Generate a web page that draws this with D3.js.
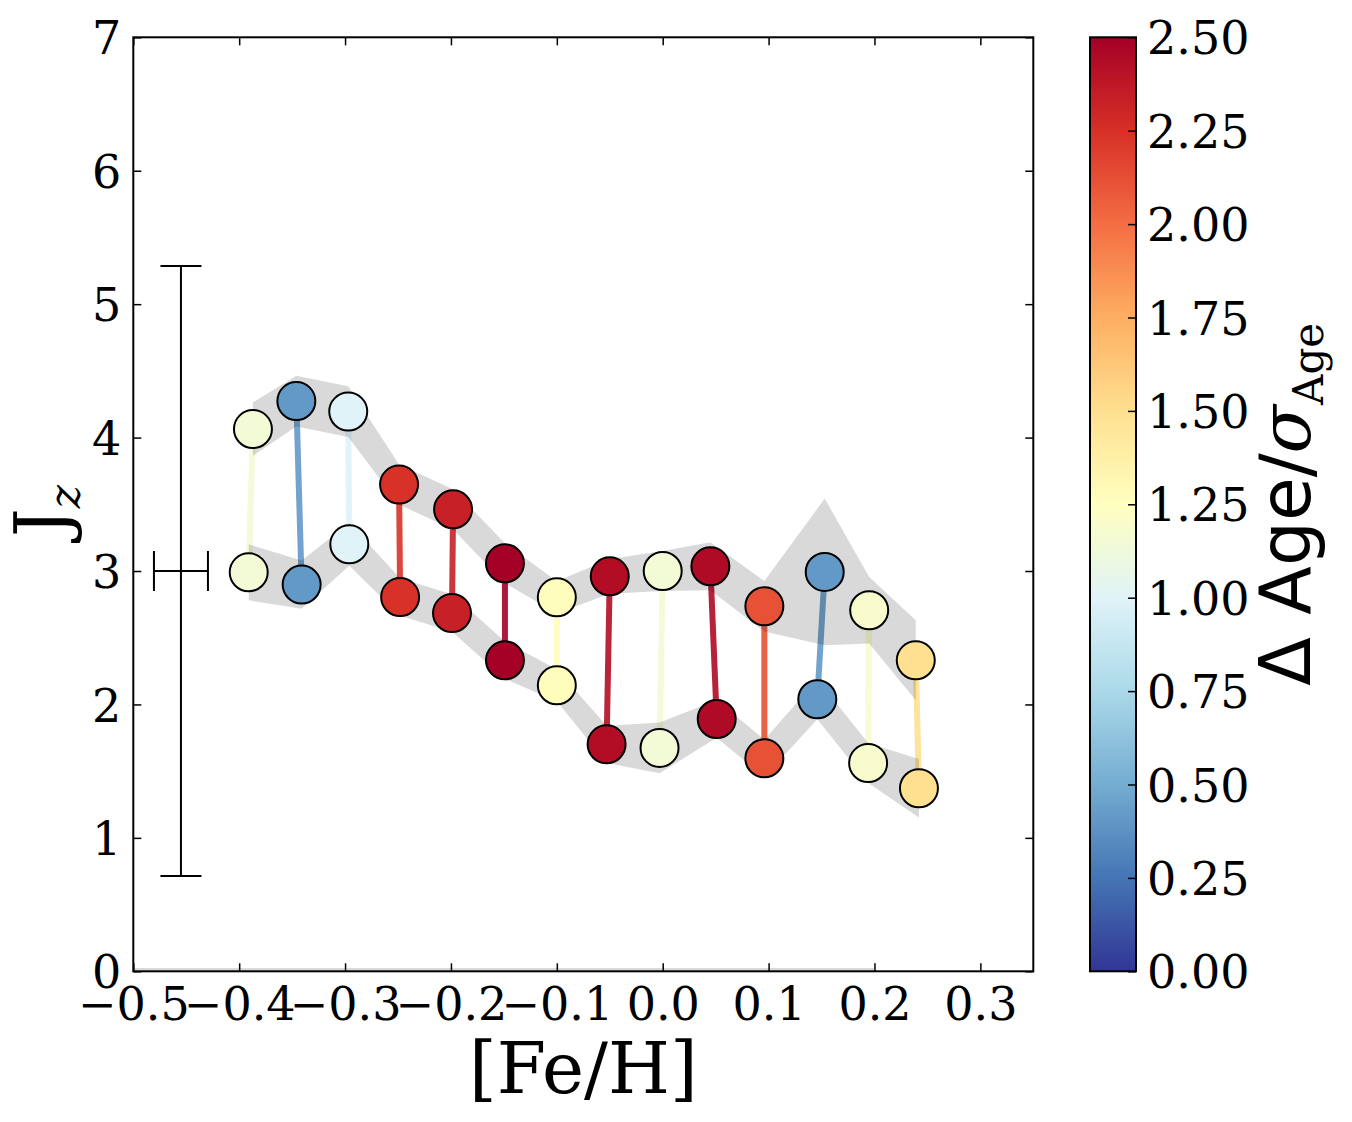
<!DOCTYPE html>
<html>
<head>
<meta charset="utf-8">
<script src="https://cdn.jsdelivr.net/npm/d3@7"></script>
<style>
  body { margin: 0; background: #fff; }
  svg { display: block; }
  text { font-family: "DejaVu Serif", serif; fill: #000; }
</style>
</head>
<body>
<div id="chart"></div>
<script>
// pairs of points: upper and lower track, one pair per [Fe/H] bin
const topFeH = [-0.387, -0.346, -0.297, -0.249, -0.198, -0.149, -0.100, -0.050, 0.000, 0.045, 0.096, 0.153, 0.195, 0.239];
const topJz  = [4.064, 4.274, 4.195, 3.648, 3.462, 3.058, 2.803, 2.960, 3.000, 3.035, 2.736, 2.993, 2.706, 2.331];
const topErr = [0.20, 0.19, 0.19, 0.15, 0.15, 0.15, 0.12, 0.13, 0.15, 0.18, 0.19, 0.55, 0.25, 0.30];

const botFeH = [-0.391, -0.341, -0.296, -0.248, -0.199, -0.149, -0.100, -0.053, -0.003, 0.051, 0.096, 0.146, 0.194, 0.242];
const botJz  = [2.990, 2.898, 3.200, 2.805, 2.685, 2.331, 2.143, 1.701, 1.674, 1.891, 1.596, 2.039, 1.561, 1.372];
const botErr = [0.21, 0.18, 0.16, 0.14, 0.14, 0.14, 0.12, 0.14, 0.19, 0.14, 0.14, 0.15, 0.15, 0.22];

// colour value for each pair
const deltaAge = [1.15, 0.41, 1.00, 2.24, 2.33, 2.50, 1.27, 2.43, 1.15, 2.45, 2.11, 0.41, 1.19, 1.50];

// thin grey band along zero
const zeroFeH = [-0.5, 0.2];
const zeroJz = [0.012, 0.012];
const zeroErr = [0.012, 0.012];

// typical error bar
const errFeH = [-0.455];
const errJz = [3.0];
const errFeHErr = [0.0255];
const errJzErr = [2.286];

const xTicks = [-0.5, -0.4, -0.3, -0.2, -0.1, 0.0, 0.1, 0.2, 0.3];
const yTicks = [0, 1, 2, 3, 4, 5, 6, 7];
const cTicks = [0, 0.25, 0.5, 0.75, 1.0, 1.25, 1.5, 1.75, 2.0, 2.25, 2.5];
const rdylbu = ["#a50026","#d73027","#f46d43","#fdae61","#fee090","#ffffbf","#e0f3f8","#abd9e9","#74add1","#4575b4","#313695"];

const width = 1352, height = 1122;
const plot = { left: 133.3, top: 37.3, right: 1033.3, bottom: 971.3 };
const cbar = { left: 1090, right: 1136 };

const svg = d3.select("#chart").append("svg")
    .attr("width", width)
    .attr("height", height);

const x = d3.scaleLinear().domain([-0.5, 0.35]).range([plot.left, plot.right]);
const y = d3.scaleLinear().domain([0, 7]).range([plot.bottom, plot.top]);

// RdYlBu_r, linear between the 11 stops
const cStops = rdylbu.slice().reverse();
const color = d3.scaleLinear()
    .domain(cStops.map((c, i) => i * 2.5 / (cStops.length - 1)))
    .range(cStops)
    .clamp(true);

const pairs = topFeH.map((d, i) => ({
    x1: d, y1: topJz[i], e1: topErr[i],
    x2: botFeH[i], y2: botJz[i], e2: botErr[i],
    c: deltaAge[i]
}));

svg.append("clipPath").attr("id", "plotclip")
    .append("rect")
    .attr("x", plot.left).attr("y", plot.top)
    .attr("width", plot.right - plot.left).attr("height", plot.bottom - plot.top);

const g = svg.append("g").attr("clip-path", "url(#plotclip)");

// connecting lines
g.append("g").selectAll("line")
    .data(pairs)
    .enter().append("line")
    .attr("x1", d => x(d.x1)).attr("y1", d => y(d.y1))
    .attr("x2", d => x(d.x2)).attr("y2", d => y(d.y2))
    .attr("stroke", d => color(d.c))
    .attr("stroke-width", 6)
    .attr("stroke-opacity", 0.9);

// grey bands
const area = d3.area()
    .x(d => x(d.x))
    .y0(d => y(d.y - d.e))
    .y1(d => y(d.y + d.e));

const bands = [
    pairs.map(p => ({ x: p.x1, y: p.y1, e: p.e1 })),
    pairs.map(p => ({ x: p.x2, y: p.y2, e: p.e2 })),
    zeroFeH.map((d, i) => ({ x: d, y: zeroJz[i], e: zeroErr[i] }))
];

g.append("g").selectAll("path")
    .data(bands)
    .enter().append("path")
    .attr("d", area)
    .attr("fill", "#000")
    .attr("fill-opacity", 0.15);

// error bar
const eb = g.append("g").attr("stroke", "#000").attr("stroke-width", 2);
errFeH.forEach((d, i) => {
    const cx = x(d), cy = y(errJz[i]);
    const yt = y(errJz[i] + errJzErr[i]), yb = y(errJz[i] - errJzErr[i]);
    const xl = x(d - errFeHErr[i]), xr = x(d + errFeHErr[i]);
    eb.append("line").attr("x1", cx).attr("x2", cx).attr("y1", yt).attr("y2", yb);
    eb.append("line").attr("x1", cx - 20.5).attr("x2", cx + 20.5).attr("y1", yt).attr("y2", yt);
    eb.append("line").attr("x1", cx - 20.5).attr("x2", cx + 20.5).attr("y1", yb).attr("y2", yb);
    eb.append("line").attr("x1", xl).attr("x2", xr).attr("y1", cy).attr("y2", cy);
    eb.append("line").attr("x1", xl).attr("x2", xl).attr("y1", cy - 20).attr("y2", cy + 20);
    eb.append("line").attr("x1", xr).attr("x2", xr).attr("y1", cy - 20).attr("y2", cy + 20);
});

// points
const pts = pairs.flatMap(p => [{ x: p.x1, y: p.y1, c: p.c }, { x: p.x2, y: p.y2, c: p.c }]);
g.append("g").selectAll("circle")
    .data(pts)
    .enter().append("circle")
    .attr("cx", d => x(d.x))
    .attr("cy", d => y(d.y))
    .attr("r", 19)
    .attr("fill", d => color(d.c))
    .attr("stroke", "#000")
    .attr("stroke-width", 2);

// axes: ticks inside on all four sides
const tickLen = 8;
const fmtX = d3.format(".1f");

const axB = svg.append("g").attr("transform", `translate(0,${plot.bottom})`)
    .call(d3.axisBottom(x).tickValues(xTicks).tickSize(-tickLen).tickPadding(16).tickFormat(fmtX));
const axT = svg.append("g").attr("transform", `translate(0,${plot.top})`)
    .call(d3.axisTop(x).tickValues(xTicks).tickSize(-tickLen).tickFormat(""));
const axL = svg.append("g").attr("transform", `translate(${plot.left},0)`)
    .call(d3.axisLeft(y).tickValues(yTicks).tickSize(-tickLen).tickPadding(12).tickFormat(d3.format("d")));
const axR = svg.append("g").attr("transform", `translate(${plot.right},0)`)
    .call(d3.axisRight(y).tickValues(yTicks).tickSize(-tickLen).tickFormat(""));

[axB, axT, axL, axR].forEach(a => {
    a.select(".domain").remove();
    a.selectAll(".tick line").attr("stroke", "#000").attr("stroke-width", 1.5);
    a.selectAll("text").attr("font-family", "DejaVu Serif").attr("font-size", 46).attr("fill", "#000");
});
axB.selectAll("text").attr("dy", "0.71em");
axL.selectAll("text").attr("dy", "0.36em");

svg.append("rect")
    .attr("x", plot.left).attr("y", plot.top)
    .attr("width", plot.right - plot.left).attr("height", plot.bottom - plot.top)
    .attr("fill", "none").attr("stroke", "#000").attr("stroke-width", 2);

// axis labels
svg.append("text")
    .attr("x", (plot.left + plot.right) / 2)
    .attr("y", 1093)
    .attr("text-anchor", "middle")
    .attr("font-size", 71)
    .text("[Fe/H]");

const yl = svg.append("text")
    .attr("transform", "translate(67,511) rotate(-90)")
    .attr("text-anchor", "middle")
    .attr("font-size", 72);
yl.append("tspan").text("J");
yl.append("tspan").attr("font-style", "italic").attr("font-size", 44).attr("dy", 13).text("z");

// colour bar
const cy = d3.scaleLinear().domain([0, 2.5]).range([plot.bottom, plot.top]);
const grad = svg.append("defs").append("linearGradient")
    .attr("id", "cgrad")
    .attr("x1", 0).attr("y1", 1).attr("x2", 0).attr("y2", 0);
grad.selectAll("stop")
    .data(color.domain())
    .enter().append("stop")
    .attr("offset", d => d / 2.5)
    .attr("stop-color", d => color(d));

svg.append("rect")
    .attr("x", cbar.left).attr("y", cy(2.5))
    .attr("width", cbar.right - cbar.left).attr("height", cy(0) - cy(2.5))
    .attr("fill", "url(#cgrad)")
    .attr("stroke", "#000").attr("stroke-width", 2);

const axC = svg.append("g").attr("transform", `translate(${cbar.right},0)`)
    .call(d3.axisRight(cy).tickValues(cTicks).tickSize(-tickLen).tickPadding(11).tickFormat(d3.format(".2f")));
axC.select(".domain").remove();
axC.selectAll(".tick line").attr("stroke", "#000").attr("stroke-width", 1.5);
axC.selectAll("text").attr("font-family", "DejaVu Serif").attr("font-size", 46).attr("fill", "#000").attr("dy", "0.36em");

const cl = svg.append("text")
    .attr("transform", `translate(1310,${(plot.top + plot.bottom) / 2}) rotate(-90)`)
    .attr("text-anchor", "middle")
    .attr("font-size", 71);
cl.append("tspan").attr("font-family", "DejaVu Sans").text("\u0394 Age/");
cl.append("tspan").attr("font-style", "italic").text("\u03c3");
cl.append("tspan").attr("font-size", 42).attr("dy", 13).text("Age");
</script>
</body>
</html>
